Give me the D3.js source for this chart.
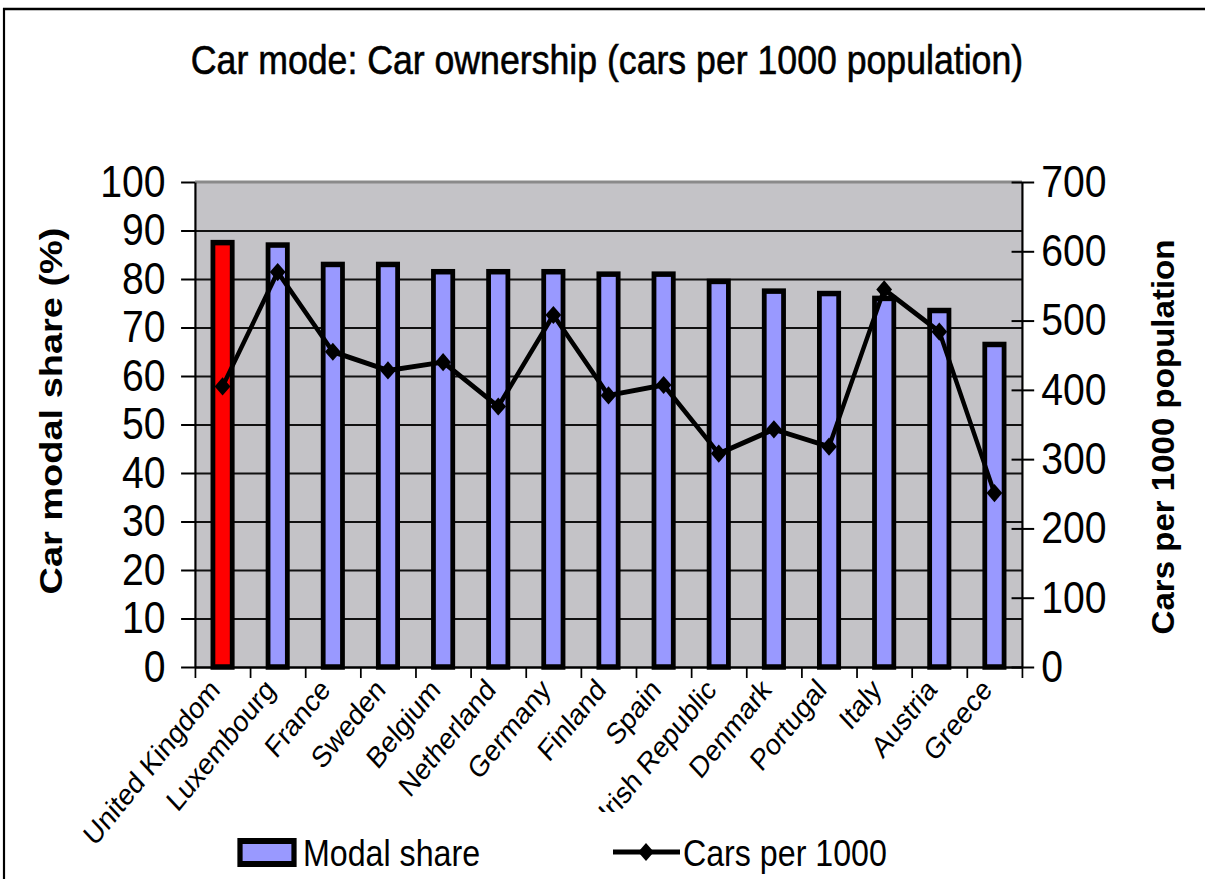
<!DOCTYPE html>
<html>
<head>
<meta charset="utf-8">
<script src="https://cdn.jsdelivr.net/npm/d3@7"></script>
<style>
  html, body { margin: 0; background: #fff; overflow: hidden; }
  svg { display: block; }
  text { font-family: 'Liberation Sans', Arial, sans-serif; fill: #000; }
</style>
</head>
<body>
<div id="chart"></div>
<script>
'use strict'

const countries = ['United Kingdom', 'Luxembourg', 'France', 'Sweden', 'Belgium', 'Netherland',
  'Germany', 'Finland', 'Spain', 'Irish Republic', 'Denmark', 'Portugal', 'Italy', 'Austria', 'Greece']
const modalShare = [87.5, 87, 83, 83, 81.5, 81.5, 81.5, 81, 81, 79.5, 77.5, 77, 76, 73.5, 66.5]
const carsPer1000 = [405, 570, 455, 428, 440, 376, 508, 392, 407, 308, 343, 318, 545, 484, 251]
const shareTicks = [0, 10, 20, 30, 40, 50, 60, 70, 80, 90, 100]
const carTicks = [0, 100, 200, 300, 400, 500, 600, 700]
const highlight = 'United Kingdom'

const width = 1205
const height = 879
// the original picture is squashed sideways, so draw wide and squeeze
const squeeze = 0.87
const ux = x => x / squeeze

const plot = { left: ux(195), right: ux(1022), top: 182, bottom: 667 }

const svg = d3.select('#chart').append('svg')
  .attr('width', width)
  .attr('height', height)

const root = svg.append('g').attr('transform', 'scale(' + squeeze + ',1)')

// outer frame (only top and left edges are in view)
root.append('path')
  .attr('d', 'M' + ux(4) + ',' + height + 'V9H' + ux(width + 10))
  .attr('fill', 'none')
  .attr('stroke', '#000')
  .attr('stroke-width', 2.5)

root.append('text')
  .attr('x', ux(607)).attr('y', 74)
  .attr('text-anchor', 'middle')
  .style('font-size', '41px')
  .style('stroke', '#000')
  .style('stroke-width', 0.6)
  .text('Car mode: Car ownership (cars per 1000 population)')

const x = d3.scaleBand()
  .domain(countries)
  .range([plot.left, plot.right])
  .paddingInner(0.65)
  .paddingOuter(0.325)

const xEdge = d3.scaleLinear()
  .domain([0, countries.length])
  .range([plot.left, plot.right])

const yShare = d3.scaleLinear().domain([0, 100]).range([plot.bottom, plot.top])
const yCars = d3.scaleLinear().domain([0, 700]).range([plot.bottom, plot.top])

// plot background
root.append('rect')
  .attr('x', plot.left).attr('y', plot.top)
  .attr('width', plot.right - plot.left)
  .attr('height', plot.bottom - plot.top)
  .attr('fill', '#c4c3c7')

root.append('line')
  .attr('x1', plot.left).attr('x2', plot.right)
  .attr('y1', plot.top).attr('y2', plot.top)
  .attr('stroke', '#8a8a8a')
  .attr('stroke-width', 3)

// gridlines
const grid = root.append('g')
  .attr('transform', 'translate(' + plot.left + ',0)')
  .call(d3.axisLeft(yShare)
    .tickValues(shareTicks.slice(1, -1))
    .tickSize(-(plot.right - plot.left))
    .tickFormat(''))
grid.select('.domain').remove()
grid.selectAll('line').attr('stroke', '#111').attr('stroke-width', 2.2)

// bars
root.append('g').selectAll('rect')
  .data(countries)
  .enter()
  .append('rect')
  .attr('x', d => x(d))
  .attr('width', x.bandwidth())
  .attr('y', (d, i) => yShare(modalShare[i]))
  .attr('height', (d, i) => plot.bottom - yShare(modalShare[i]))
  .attr('fill', d => d === highlight ? '#ff0000' : '#9999ff')
  .attr('stroke', '#000')
  .attr('stroke-width', 5.5)

// axes
const leftAxis = root.append('g')
  .attr('transform', 'translate(' + plot.left + ',0)')
  .call(d3.axisLeft(yShare).tickValues(shareTicks).tickSize(16).tickSizeOuter(0).tickPadding(18))
leftAxis.select('.domain').attr('stroke-width', 2.5)
leftAxis.selectAll('line').attr('stroke-width', 2)
leftAxis.selectAll('text').style('font-size', '45px').attr('font-family', null)

const rightAxis = root.append('g')
  .attr('transform', 'translate(' + plot.right + ',0)')
  .call(d3.axisRight(yCars).tickValues(carTicks).tickSize(14).tickSizeOuter(0).tickPadding(8))
rightAxis.select('.domain').attr('stroke-width', 2.5)
rightAxis.selectAll('line').attr('x1', -12).attr('stroke-width', 2)
rightAxis.selectAll('text').style('font-size', '45px').attr('font-family', null)

const bottomAxis = root.append('g')
  .attr('transform', 'translate(0,' + plot.bottom + ')')
  .call(d3.axisBottom(xEdge).tickValues(d3.range(countries.length + 1)).tickSize(11).tickSizeOuter(0).tickFormat(''))
bottomAxis.select('.domain').attr('stroke-width', 2.5)
bottomAxis.selectAll('line').attr('stroke-width', 2)

const labels = root.append('g')
  .attr('transform', 'translate(0,' + plot.bottom + ')')
  .call(d3.axisBottom(x).tickSize(0).tickPadding(0))
labels.select('.domain').remove()
labels.selectAll('text')
  .attr('font-family', null)
  .style('font-size', '30px')
  .attr('text-anchor', 'end')
  .attr('x', 0).attr('y', 0).attr('dy', '0.35em')
  .attr('transform', 'translate(-9,17) rotate(-47)')

// cars per 1000 line
const cx = d => x(d) + x.bandwidth() / 2
const line = d3.line()
  .x(d => cx(d))
  .y((d, i) => yCars(carsPer1000[i]))

root.append('path')
  .datum(countries)
  .attr('d', line)
  .attr('fill', 'none')
  .attr('stroke', '#000')
  .attr('stroke-width', 5)
  .attr('stroke-linejoin', 'round')

const diamond = d3.symbol().type(d3.symbolSquare).size(165)
root.append('g').selectAll('path')
  .data(countries)
  .enter()
  .append('path')
  .attr('d', diamond)
  .attr('transform', (d, i) => 'translate(' + cx(d) + ',' + yCars(carsPer1000[i]) + ') rotate(45)')
  .attr('fill', '#000')

// axis titles
root.append('text')
  .attr('transform', 'translate(' + ux(62) + ',411) rotate(-90)')
  .attr('text-anchor', 'middle')
  .attr('textLength', 367)
  .attr('lengthAdjust', 'spacingAndGlyphs')
  .style('font-size', '35px')
  .style('font-weight', 'bold')
  .text('Car modal share (%)')

root.append('text')
  .attr('transform', 'translate(' + ux(1174) + ',437) rotate(-90)')
  .attr('text-anchor', 'middle')
  .attr('textLength', 395)
  .attr('lengthAdjust', 'spacingAndGlyphs')
  .style('font-size', '35px')
  .style('font-weight', 'bold')
  .text('Cars per 1000 population')

// legend
const legend = root.append('g')
legend.append('rect')
  .attr('x', ux(225)).attr('y', 812)
  .attr('width', ux(905) - ux(225)).attr('height', 80)
  .attr('fill', '#fff')

legend.append('rect')
  .attr('x', ux(240)).attr('y', 841)
  .attr('width', ux(294) - ux(240)).attr('height', 23)
  .attr('fill', '#9999ff')
  .attr('stroke', '#000')
  .attr('stroke-width', 6)

legend.append('text')
  .attr('x', ux(303)).attr('y', 866)
  .style('font-size', '37px')
  .text('Modal share')

legend.append('line')
  .attr('x1', ux(613)).attr('x2', ux(680))
  .attr('y1', 852).attr('y2', 852)
  .attr('stroke', '#000')
  .attr('stroke-width', 5)

legend.append('path')
  .attr('d', diamond)
  .attr('transform', 'translate(' + ux(646) + ',852) rotate(45)')
  .attr('fill', '#000')

legend.append('text')
  .attr('x', ux(683)).attr('y', 866)
  .style('font-size', '37px')
  .text('Cars per 1000')
</script>
</body>
</html>
